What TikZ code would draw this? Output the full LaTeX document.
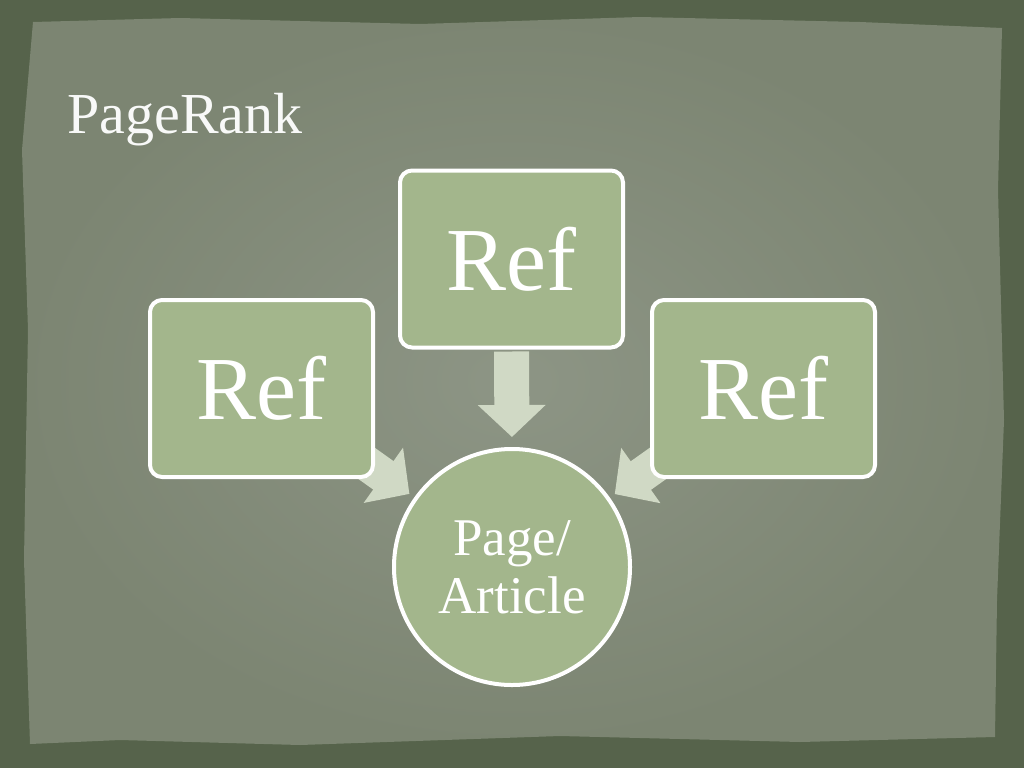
\documentclass[tikz,border=0pt]{standalone}
\usepackage{fontspec}
\setmainfont{Liberation Serif}
\usetikzlibrary{arrows.meta}
\pgfdeclarelayer{paper}
\pgfdeclarelayer{background}
\pgfsetlayers{paper,background,main}

\definecolor{frame}{HTML}{56634B}
\definecolor{paperin}{HTML}{8D9585}
\definecolor{paperout}{HTML}{7C8572}
\definecolor{boxfill}{HTML}{A3B68C}
\definecolor{arrowfill}{HTML}{D0D9C5}

\tikzset{
  refbox/.style={rectangle,rounded corners=12pt,draw=white,line width=4pt,fill=boxfill,
    minimum width=223pt,minimum height=177pt,text=white,font=\fontsize{90}{90}\selectfont},
  pagecirc/.style={circle,draw=white,line width=4pt,fill=boxfill,minimum size=236pt,
    text=white,align=center,font=\fontsize{53}{58}\selectfont},
  flow/.style={line width=35pt,draw=arrowfill,-{Triangle[length=32pt,width=66pt]}}
}

\begin{document}
\begin{tikzpicture}[x=1pt,y=-1pt]

  \useasboundingbox (0,0) rectangle (1024,768);
  \begin{pgfonlayer}{paper}
    \fill[frame] (0,0) rectangle (1024,768);
    \shade[inner color=paperin,outer color=paperout]
      (33,22) -- (180,18) -- (420,24) -- (640,17) -- (860,22) -- (1002,28)
      -- (998,190) -- (1004,420) -- (997,600) -- (995,737)
      -- (800,742) -- (560,736) -- (300,745) -- (120,740) -- (30,744)
      -- (24,560) -- (28,330) -- (22,150) -- cycle;
  \end{pgfonlayer}

  \node[text=white!94!paperin,font=\fontsize{58}{58}\selectfont,anchor=base west] (title) at (64,133) {PageRank};

  \begin{scope}[every node/.style={refbox}]
    \node (ref1) at (261.5,388.5) {Ref};
    \node (ref2) at (511.5,259)   {Ref};
    \node (ref3) at (763.5,388.5) {Ref};
  \end{scope}

  \node[pagecirc] (page) at (512,567) {Page/\\Article};

  \begin{pgfonlayer}{background}
    \begin{scope}[every edge/.style={flow}]
      \path (ref2.south) edge[shorten <=2pt,shorten >=10pt] (page.north);
      \path (ref1.center) edge[shorten <=97pt,shorten >=126pt] (page.center);
      \path (ref3.center) edge[shorten <=97pt,shorten >=126pt] (page.center);
    \end{scope}
  \end{pgfonlayer}

\end{tikzpicture}
\end{document}
